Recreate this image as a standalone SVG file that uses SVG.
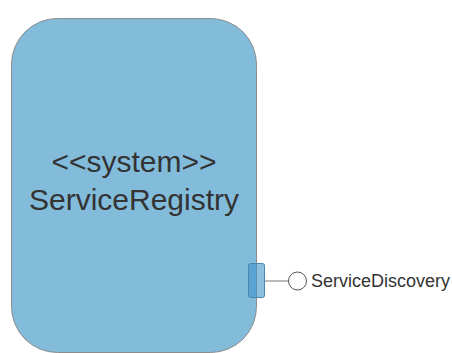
<svg xmlns="http://www.w3.org/2000/svg" width="452" height="353" viewBox="0 0 452 353">
<style>
.sys{fill:#83bcdb;stroke:#8c8c8c;stroke-width:1}
.lbl{font-family:"Liberation Sans",Arial,sans-serif;fill:#333333}
.port{fill:#3d95cc;fill-opacity:0.6;stroke:#4a87ad;stroke-width:1}
.conn{stroke:#777777;stroke-width:1;fill:none}
</style>
<g id="ServiceRegistry">
<rect class="sys" x="11.5" y="18.5" width="245" height="334" rx="46" ry="46"/>
<text class="lbl" x="134" y="172" font-size="30" text-anchor="middle">&lt;&lt;system&gt;&gt;</text>
<text class="lbl" x="134" y="210" font-size="30" text-anchor="middle">ServiceRegistry</text>
</g>
<g id="port">
<rect class="port" x="248.5" y="263.5" width="16" height="34" rx="2" ry="2"/>
</g>
<g id="connectors">
<line class="conn" x1="265" y1="281" x2="289" y2="281"/>
</g>
<g id="ServiceDiscovery">
<circle cx="297.5" cy="281" r="9" fill="#ffffff" stroke="#555555" stroke-width="1"/>
<text class="lbl" x="311" y="287" font-size="18">ServiceDiscovery</text>
</g>
</svg>
